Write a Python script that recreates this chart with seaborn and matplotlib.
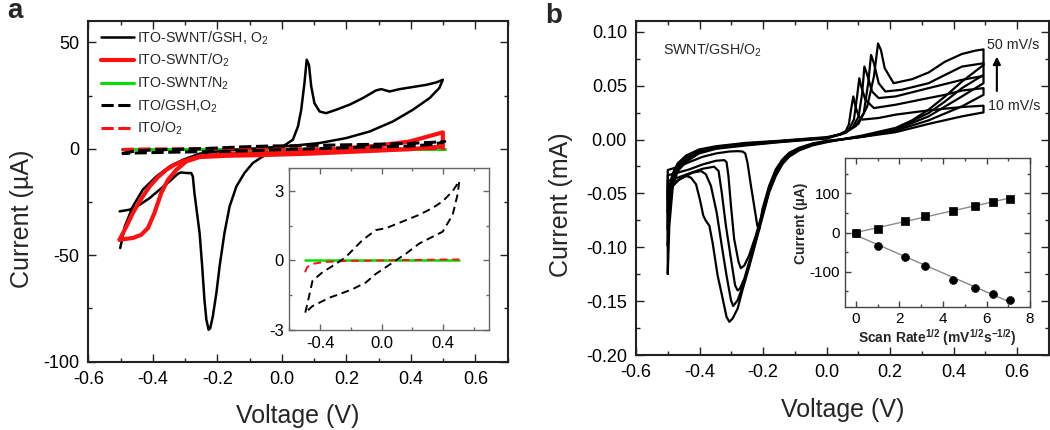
import numpy as np
import pandas as pd
import matplotlib
matplotlib.use("Agg")
import matplotlib.pyplot as plt
import seaborn as sns
from matplotlib.ticker import MultipleLocator, FormatStrFormatter

# ---------------- Panel a data (Voltage V, Current uA) ----------------
swnt_gsh_o2 = [(-0.503, -29.4), (-0.472, -28.6), (-0.441, -26.3), (-0.41, -23.2), (-0.379, -19.2),
               (-0.348, -15.3), (-0.322, -11.7), (-0.312, -11.1), (-0.296, -11.4), (-0.281, -11.4),
               (-0.276, -13.0), (-0.271, -20.8), (-0.263, -30.2), (-0.255, -39.6), (-0.247, -55.2),
               (-0.24, -70.9), (-0.234, -80.3), (-0.227, -85.0), (-0.222, -84.2), (-0.214, -78.7),
               (-0.203, -67.8), (-0.193, -55.2), (-0.178, -39.6), (-0.162, -27.1), (-0.141, -17.7),
               (-0.116, -11.4), (-0.09, -6.7), (-0.059, -3.6), (-0.028, -1.3), (0.003, 1.1),
               (0.034, 4.2), (0.05, 10.5), (0.06, 18.3), (0.07, 30.8), (0.077, 41.8), (0.084, 39.4),
               (0.091, 29.3), (0.101, 21.4), (0.117, 17.5), (0.137, 16.7), (0.168, 18.3), (0.21, 20.7),
               (0.251, 23.8), (0.292, 27.4), (0.308, 28.0), (0.334, 26.9), (0.365, 28.0), (0.406, 29.0),
               (0.447, 30.0), (0.478, 31.1), (0.499, 32.4),
               (0.488, 28.5), (0.458, 23.8), (0.406, 18.3), (0.344, 12.8), (0.272, 8.1), (0.199, 5.0),
               (0.117, 2.7), (0.034, 1.4), (-0.069, 0.3), (-0.172, -0.8), (-0.255, -2.3), (-0.307, -5.2),
               (-0.348, -8.3), (-0.389, -13.0), (-0.431, -19.2), (-0.462, -27.1), (-0.487, -36.5),
               (-0.501, -46.6)]

swnt_o2 = [(-0.503, -42.7), (-0.482, -36.5), (-0.462, -30.2), (-0.436, -23.5), (-0.41, -17.7),
           (-0.384, -13.3), (-0.358, -9.9), (-0.333, -7.5), (-0.307, -5.9), (-0.255, -3.6),
           (-0.152, -2.3), (-0.007, -1.7), (0.137, -0.5), (0.292, 1.4), (0.396, 3.4), (0.499, 7.7),
           (0.499, 1.1), (0.396, -0.2), (0.241, -1.25), (0.086, -2.3), (-0.069, -3.0), (-0.172, -3.3),
           (-0.255, -3.9), (-0.296, -5.9), (-0.327, -9.9), (-0.353, -14.6), (-0.374, -20.8),
           (-0.395, -30.2), (-0.415, -37.2), (-0.436, -40.4), (-0.462, -41.9), (-0.487, -42.4),
           (-0.503, -42.7)]

swnt_n2 = [(-0.497, 0.0), (0.0, 0.0), (0.505, 0.0)]

ito_gsh_o2 = [(-0.496, -2.25), (-0.481, -1.83), (-0.449, -0.88), (-0.384, -0.51), (-0.297, -0.15),
              (-0.232, 0.15), (-0.124, 0.88), (-0.037, 1.31), (0.028, 1.39), (0.137, 1.68),
              (0.245, 1.97), (0.331, 2.26), (0.397, 2.55), (0.462, 2.99), (0.505, 3.43),
              (0.494, 2.85), (0.462, 1.97), (0.397, 1.24), (0.331, 1.02), (0.245, 0.73),
              (0.158, 0.29), (0.093, 0.0), (0.028, -0.29), (-0.037, -0.58), (-0.102, -0.95),
              (-0.189, -1.24), (-0.276, -1.46), (-0.341, -1.61), (-0.406, -1.83), (-0.449, -1.97),
              (-0.496, -2.25)]

ito_o2 = [(-0.497, -0.51), (-0.485, -0.3), (-0.47, -0.22), (-0.44, -0.14), (-0.406, -0.1),
          (-0.35, -0.06), (-0.297, -0.04), (-0.2, -0.02), (0.0, 0.0), (0.2, 0.02), (0.4, 0.04),
          (0.505, 0.04)]

legend_labels = ["ITO-SWNT/GSH, O$_2$", "ITO-SWNT/O$_2$", "ITO-SWNT/N$_2$",
                 "ITO/GSH,O$_2$", "ITO/O$_2$"]

# ---------------- Panel b data (Voltage V, Current mA) ----------------
cv_10 = [(-0.5, -0.0554), (-0.495, -0.0431), (-0.484, -0.0314), (-0.469, -0.0222), (-0.442, -0.0148),
         (-0.401, -0.0092), (-0.348, -0.0062), (-0.254, -0.0031), (-0.15, -0.0012), (-0.045, 0.0012),
         (0.0, 0.0022), (0.039, 0.0046), (0.06, 0.0077), (0.07, 0.0138), (0.077, 0.0277), (0.084, 0.040),
         (0.091, 0.0308), (0.101, 0.0215), (0.112, 0.0185), (0.164, 0.020), (0.217, 0.0231),
         (0.321, 0.0271), (0.426, 0.0302), (0.494, 0.0314), (0.494, 0.0252), (0.426, 0.0215),
         (0.321, 0.0145), (0.217, 0.0068), (0.112, 0.0025), (0.06, 0.0006), (0.0, -0.0012),
         (-0.045, -0.0037), (-0.087, -0.0077), (-0.118, -0.0123), (-0.139, -0.0185), (-0.16, -0.0277),
         (-0.181, -0.0431), (-0.202, -0.0646), (-0.207, -0.0738), (-0.212, -0.0831), (-0.218, -0.080),
         (-0.228, -0.0615), (-0.238, -0.0431), (-0.249, -0.0215), (-0.256, -0.0129), (-0.265, -0.0111),
         (-0.28, -0.0108), (-0.306, -0.0111), (-0.348, -0.0129), (-0.39, -0.016), (-0.432, -0.0209),
         (-0.469, -0.0255), (-0.5, -0.0283), (-0.5, -0.0554)]

cv_20 = [(-0.5, -0.0677), (-0.495, -0.0508), (-0.484, -0.0338), (-0.469, -0.024), (-0.442, -0.016),
         (-0.401, -0.0102), (-0.348, -0.0068), (-0.254, -0.0037), (-0.15, -0.0015), (-0.045, 0.0009),
         (0.0, 0.0018), (0.044, 0.0046), (0.07, 0.0092), (0.086, 0.0185), (0.096, 0.040), (0.103, 0.0569),
         (0.109, 0.0492), (0.122, 0.0369), (0.149, 0.0292), (0.217, 0.0323), (0.321, 0.0385),
         (0.373, 0.0415), (0.426, 0.0455), (0.494, 0.0477), (0.494, 0.0415), (0.426, 0.0308),
         (0.321, 0.0178), (0.217, 0.0083), (0.112, 0.0025), (0.06, 0.0006), (0.0, -0.0015),
         (-0.045, -0.004), (-0.087, -0.0083), (-0.118, -0.0132), (-0.139, -0.0194), (-0.16, -0.0292),
         (-0.181, -0.0446), (-0.202, -0.0677), (-0.223, -0.0892), (-0.244, -0.1077), (-0.259, -0.1169),
         (-0.27, -0.1194), (-0.277, -0.1138), (-0.291, -0.0923), (-0.301, -0.0615), (-0.309, -0.0338),
         (-0.315, -0.0209), (-0.322, -0.0191), (-0.348, -0.0197), (-0.39, -0.0231), (-0.432, -0.0277),
         (-0.469, -0.0308), (-0.5, -0.0332), (-0.5, -0.0677)]

cv_30 = [(-0.5, -0.0831), (-0.495, -0.0585), (-0.484, -0.0363), (-0.469, -0.0258), (-0.442, -0.0175),
         (-0.401, -0.0111), (-0.348, -0.0074), (-0.254, -0.0043), (-0.15, -0.0018), (-0.045, 0.0006),
         (0.0, 0.0015), (0.049, 0.0055), (0.081, 0.0108), (0.101, 0.0215), (0.112, 0.0431), (0.119, 0.0677),
         (0.128, 0.060), (0.143, 0.0446), (0.164, 0.0385), (0.217, 0.040), (0.321, 0.0477),
         (0.426, 0.0554), (0.494, 0.0591), (0.494, 0.0523), (0.426, 0.040), (0.321, 0.0215),
         (0.217, 0.0092), (0.112, 0.0028), (0.06, 0.0006), (0.0, -0.0018), (-0.045, -0.0043),
         (-0.087, -0.0089), (-0.118, -0.0142), (-0.139, -0.0203), (-0.16, -0.0308), (-0.181, -0.0462),
         (-0.202, -0.0692), (-0.223, -0.0923), (-0.244, -0.1138), (-0.259, -0.1292), (-0.273, -0.1385),
         (-0.28, -0.140), (-0.288, -0.1354), (-0.301, -0.1108), (-0.317, -0.080), (-0.33, -0.0492),
         (-0.34, -0.0292), (-0.354, -0.0252), (-0.39, -0.0271), (-0.432, -0.0314), (-0.469, -0.0354),
         (-0.5, -0.0385), (-0.5, -0.0831)]

cv_40 = [(-0.5, -0.0985), (-0.495, -0.0677), (-0.484, -0.0394), (-0.469, -0.0277), (-0.442, -0.0191),
         (-0.401, -0.012), (-0.348, -0.008), (-0.254, -0.0049), (-0.15, -0.0022), (-0.045, 0.0003),
         (0.0, 0.0012), (0.054, 0.0062), (0.091, 0.0123), (0.117, 0.0246), (0.131, 0.0523), (0.14, 0.0785),
         (0.149, 0.0708), (0.164, 0.0523), (0.185, 0.0446), (0.237, 0.0462), (0.321, 0.0523),
         (0.373, 0.060), (0.426, 0.0677), (0.494, 0.0708), (0.494, 0.060), (0.426, 0.0477),
         (0.373, 0.0354), (0.321, 0.0246), (0.217, 0.0098), (0.112, 0.0031), (0.06, 0.0006),
         (0.0, -0.0022), (-0.045, -0.0049), (-0.087, -0.0095), (-0.118, -0.0151), (-0.139, -0.0215),
         (-0.16, -0.0323), (-0.181, -0.0477), (-0.202, -0.0708), (-0.223, -0.0938), (-0.244, -0.1169),
         (-0.265, -0.1369), (-0.28, -0.1492), (-0.294, -0.1545), (-0.301, -0.1492), (-0.315, -0.1262),
         (-0.33, -0.0985), (-0.346, -0.0677), (-0.364, -0.0431), (-0.38, -0.0323), (-0.395, -0.0292),
         (-0.422, -0.0308), (-0.453, -0.0354), (-0.484, -0.0406), (-0.5, -0.0431), (-0.5, -0.0985)]

cv_50 = [(-0.5, -0.1246), (-0.495, -0.080), (-0.484, -0.0431), (-0.469, -0.0295), (-0.442, -0.0206),
         (-0.401, -0.0129), (-0.348, -0.0086), (-0.254, -0.0055), (-0.15, -0.0025), (-0.045, 0.0),
         (0.0, 0.0009), (0.06, 0.0062), (0.101, 0.0148), (0.128, 0.0308), (0.149, 0.0585), (0.162, 0.0892),
         (0.171, 0.0831), (0.183, 0.0662), (0.211, 0.0523), (0.269, 0.056), (0.321, 0.0622),
         (0.373, 0.0723), (0.426, 0.0794), (0.468, 0.0825), (0.494, 0.0837), (0.494, 0.0692),
         (0.426, 0.0538), (0.373, 0.040), (0.321, 0.0277), (0.269, 0.0178), (0.217, 0.0108),
         (0.112, 0.0037), (0.06, 0.0009), (0.0, -0.0025), (-0.045, -0.0055), (-0.087, -0.0102),
         (-0.118, -0.016), (-0.139, -0.0228), (-0.16, -0.0338), (-0.181, -0.0492), (-0.202, -0.0723),
         (-0.223, -0.0954), (-0.244, -0.1185), (-0.265, -0.140), (-0.28, -0.1569), (-0.296, -0.1662),
         (-0.306, -0.1692), (-0.315, -0.1646), (-0.327, -0.1477), (-0.343, -0.1262), (-0.359, -0.0954),
         (-0.369, -0.080), (-0.38, -0.0754), (-0.388, -0.0708), (-0.399, -0.0554), (-0.411, -0.0415),
         (-0.427, -0.0354), (-0.442, -0.0338), (-0.463, -0.0369), (-0.484, -0.0431), (-0.5, -0.0477),
         (-0.5, -0.1246)]

# ---------------- Panel b inset data ----------------
scan_rate_sqrt = [0, 1.0, 2.24, 3.16, 4.47, 5.48, 6.32, 7.07]
peak_anodic = [0, 10, 29, 42, 56, 69, 79, 87]
peak_cathodic = [0, -34, -63, -85, -121, -141, -157, -174]

# ---------------- style ----------------
sns.set_theme(style="ticks")
plt.rcParams.update({
    "font.family": ["Liberation Sans", "DejaVu Sans"],
    "mathtext.fontset": "custom",
    "mathtext.rm": "Liberation Sans",
    "mathtext.it": "Liberation Sans:italic",
    "mathtext.bf": "Liberation Sans:bold",
    "axes.unicode_minus": False,
})

fig = plt.figure(figsize=(10.5, 4.3), dpi=100)
fig.patch.set_facecolor("white")


def draw(ax, pts, **kw):
    df = pd.DataFrame(pts, columns=["V", "I"])
    sns.lineplot(data=df, x="V", y="I", sort=False, estimator=None, ax=ax, legend=False, **kw)
    return ax.lines[-1]


def style_axes(ax, lw=1.5, color="#222222", labelsize=12, major_len=5.5, minor_len=3.0, pad=6):
    ax.set_facecolor("white")
    for s in ax.spines.values():
        s.set_visible(True)
        s.set_linewidth(lw)
        s.set_color(color)
    ax.tick_params(which="both", direction="in", top=True, right=True, color=color,
                   labelcolor="black", width=1.0)
    ax.tick_params(which="major", length=major_len, labelsize=labelsize, pad=pad)
    ax.tick_params(which="minor", length=minor_len)
    ax.grid(False)


# ---------------- Panel a ----------------
ax_a = fig.add_axes([0.0841, 0.1588, 0.3994, 0.7924])
l_n2 = draw(ax_a, swnt_n2, color="#00e000", lw=2.2)
l_gsh = draw(ax_a, swnt_gsh_o2, color="black", lw=1.8)
l_o2 = draw(ax_a, swnt_o2, color="#ff1010", lw=3.0)
l_ito_o2 = draw(ax_a, ito_o2, color="#ff1010", lw=2.2)
l_ito_o2.set_dashes((4, 1.5))
l_ito_gsh = draw(ax_a, ito_gsh_o2, color="black", lw=2.2)
l_ito_gsh.set_dashes((4, 1.5))

ax_a.set_xlim(-0.6, 0.7)
ax_a.set_ylim(-100, 60)
ax_a.xaxis.set_major_locator(MultipleLocator(0.2))
ax_a.xaxis.set_minor_locator(MultipleLocator(0.1))
ax_a.yaxis.set_major_locator(MultipleLocator(50))
ax_a.yaxis.set_minor_locator(MultipleLocator(25))
ax_a.xaxis.set_major_formatter(FormatStrFormatter("%.1f"))
ax_a.yaxis.set_major_formatter(FormatStrFormatter("%d"))
style_axes(ax_a, labelsize=13, pad=6.5)
ax_a.set_xlabel("Voltage (V)", fontsize=18)
ax_a.set_ylabel("Current (\u00b5A)", fontsize=18)
ax_a.xaxis.set_label_coords(0.5, -0.125)
ax_a.yaxis.set_label_coords(-0.13, 0.42)

ax_a.legend([l_gsh, l_o2, l_n2, l_ito_gsh, l_ito_o2], legend_labels, loc="upper left",
            bbox_to_anchor=(0.03, 0.975), frameon=False, fontsize=10.3, handlelength=2.3,
            handletextpad=0.2, borderpad=0, borderaxespad=0, labelspacing=0.36)

# inset a
ax_ai = fig.add_axes([0.2755, 0.2326, 0.1905, 0.3774])
draw(ax_ai, swnt_n2, color="#00e000", lw=1.8)
li1 = draw(ax_ai, ito_o2, color="#ff1010", lw=1.4)
li1.set_dashes((4, 2.5))
li2 = draw(ax_ai, ito_gsh_o2, color="black", lw=1.4)
li2.set_dashes((4, 2.5))
ax_ai.set_xlim(-0.6, 0.7)
ax_ai.set_ylim(-3, 4)
ax_ai.xaxis.set_major_locator(MultipleLocator(0.4))
ax_ai.xaxis.set_minor_locator(MultipleLocator(0.2))
ax_ai.yaxis.set_major_locator(MultipleLocator(3))
ax_ai.yaxis.set_minor_locator(MultipleLocator(1.5))
ax_ai.xaxis.set_major_formatter(FormatStrFormatter("%.1f"))
ax_ai.yaxis.set_major_formatter(FormatStrFormatter("%d"))
style_axes(ax_ai, lw=1.0, color="#666666", labelsize=12, major_len=4.5, minor_len=2.5, pad=4)
ax_ai.set_xlabel("")
ax_ai.set_ylabel("")

# ---------------- Panel b ----------------
ax_b = fig.add_axes([0.6057, 0.1744, 0.3933, 0.7767])
for cv in [cv_10, cv_20, cv_30, cv_40, cv_50]:
    draw(ax_b, cv, color="black", lw=1.6)
ax_b.set_xlim(-0.6, 0.7)
ax_b.set_ylim(-0.2, 0.11)
ax_b.xaxis.set_major_locator(MultipleLocator(0.2))
ax_b.xaxis.set_minor_locator(MultipleLocator(0.1))
ax_b.yaxis.set_major_locator(MultipleLocator(0.05))
ax_b.yaxis.set_minor_locator(MultipleLocator(0.025))
ax_b.xaxis.set_major_formatter(FormatStrFormatter("%.1f"))
ax_b.yaxis.set_major_formatter(FormatStrFormatter("%.2f"))
style_axes(ax_b, labelsize=13, pad=6.5)
ax_b.set_xlabel("Voltage (V)", fontsize=18)
ax_b.set_ylabel("Current (mA)", fontsize=18)
ax_b.xaxis.set_label_coords(0.5, -0.13)
ax_b.yaxis.set_label_coords(-0.153, 0.45)

ax_b.text(-0.516, 0.083, "SWNT/GSH/O$_2$", fontsize=10.3, va="center", ha="left")
ax_b.text(0.504, 0.0877, "50 mV/s", fontsize=10.3, va="center", ha="left")
ax_b.text(0.507, 0.0314, "10 mV/s", fontsize=10.3, va="center", ha="left")
ax_b.annotate("", xy=(0.536, 0.0795), xytext=(0.536, 0.0425),
              arrowprops=dict(arrowstyle="-|>", color="black", lw=1.5, mutation_scale=11))

# inset b
ax_bi = fig.add_axes([0.8048, 0.2867, 0.1762, 0.3451])
xs = np.array(scan_rate_sqrt)
fit_a = np.polyfit(xs, peak_anodic, 1)
fit_c = np.polyfit(xs, peak_cathodic, 1)
xfit = np.array([xs.min(), xs.max()])
sns.lineplot(x=xfit, y=np.polyval(fit_a, xfit), ax=ax_bi, color="#8a8a8a", lw=1.0, legend=False)
sns.lineplot(x=xfit, y=np.polyval(fit_c, xfit), ax=ax_bi, color="#8a8a8a", lw=1.0, legend=False)
sns.scatterplot(x=scan_rate_sqrt, y=peak_anodic, ax=ax_bi, marker="s", color="black", s=28,
                edgecolor="black", linewidth=0.5, zorder=3, legend=False)
sns.scatterplot(x=scan_rate_sqrt, y=peak_cathodic, ax=ax_bi, marker="o", color="black", s=32,
                edgecolor="black", linewidth=0.5, zorder=3, legend=False)
ax_bi.set_xlim(-0.5, 8)
ax_bi.set_ylim(-190, 190)
ax_bi.xaxis.set_major_locator(MultipleLocator(2))
ax_bi.xaxis.set_minor_locator(MultipleLocator(1))
ax_bi.yaxis.set_major_locator(MultipleLocator(100))
ax_bi.yaxis.set_minor_locator(MultipleLocator(50))
style_axes(ax_bi, lw=1.0, color="#444444", labelsize=11, major_len=4.5, minor_len=2.5, pad=3.5)
ax_bi.set_xlabel(r"Scan Rate$^{\mathbf{1/2}}$ (mV$^{\mathbf{1/2}}$s$^{\mathbf{-1/2}}$)",
                 fontsize=10, fontweight="bold")
ax_bi.set_ylabel("Current (\u00b5A)", fontsize=10, fontweight="bold")
ax_bi.xaxis.set_label_coords(0.5, -0.14)
ax_bi.yaxis.set_label_coords(-0.2, 0.56)

# panel letters
fig.text(0.007, 0.958, "a", fontsize=20, fontweight="bold", va="baseline")
fig.text(0.519, 0.947, "b", fontsize=20, fontweight="bold", va="baseline")

fig.savefig("out.png", dpi=100, facecolor="white")
